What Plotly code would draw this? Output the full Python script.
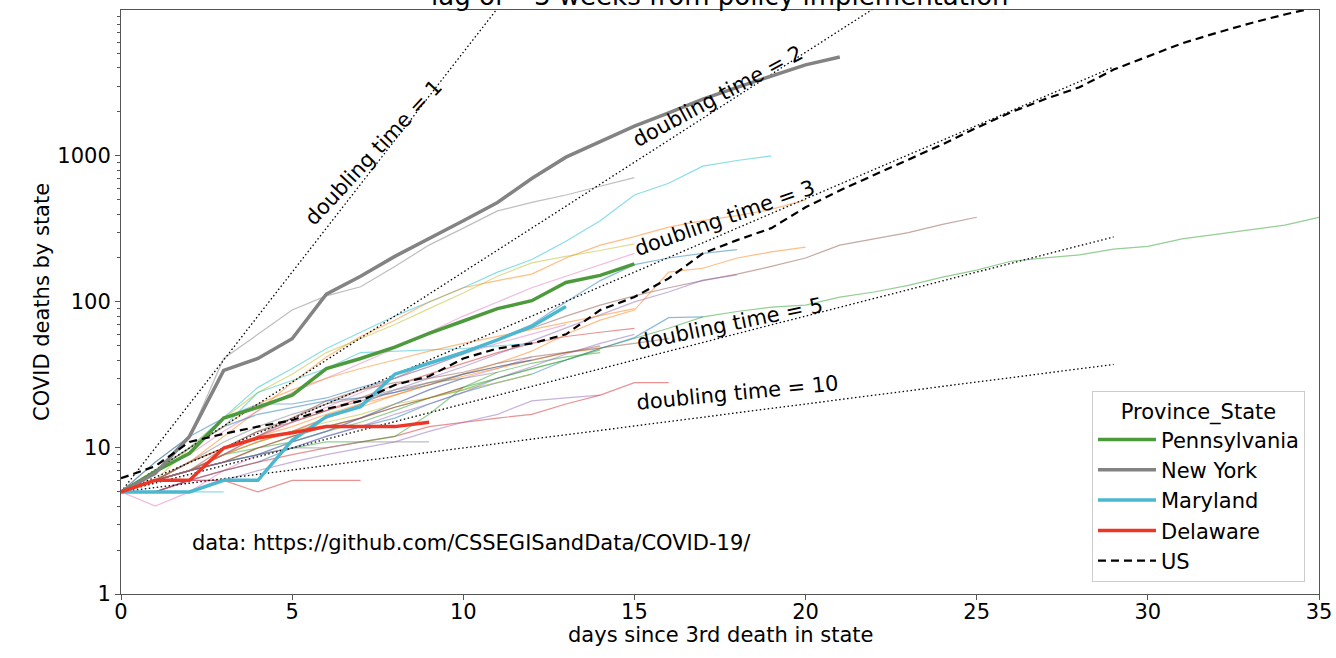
import math
import plotly.graph_objects as go

# highlighted states (deaths by days since 3rd death)
pennsylvania = [5, 6.9, 9.2, 16, 19, 23, 35, 41, 49, 61, 74, 90, 102, 136, 152, 182]
new_york = [5, 6.7, 12, 34, 41, 56, 113, 150, 205, 270, 360, 480, 700, 980, 1250, 1600,
            1970, 2450, 2950, 3500, 4200, 4750]
maryland = [5, 5, 5, 6, 6, 11.3, 16.4, 19.2, 32, 38, 45, 55, 68, 93]
delaware = [5, 6, 6, 10, 11.7, 12.7, 14, 14, 14, 15]
us = [6.2, 7.5, 11, 12.5, 14, 15.5, 18.5, 21, 27, 31, 41, 48, 52, 60, 88, 108, 145, 215,
      265, 320, 445, 580, 740, 940, 1200, 1560, 1990, 2450, 2950, 3900, 4800, 5900, 6950,
      8100, 9300, 10500]

# other states, drawn faint in the background
new_jersey = [5, 8, 12, 41, 60, 88, 110, 127, 175, 245, 320, 420, 480, 540, 620, 710]
michigan = [5, 7, 10, 16, 26, 35, 48, 62, 80, 100, 125, 160, 195, 260, 360, 540, 650, 850, 930, 1000]
louisiana = [5, 6, 8, 12, 18, 28, 42, 58, 75, 100, 125, 140, 155, 200, 245, 280, 325, 360, 390, 430, 500]
massachusetts = [5, 6, 10, 16, 24, 32, 45, 56, 70, 90, 115, 150, 185, 205, 225, 250]
california = [5, 6, 7, 10, 13, 16, 20, 25, 30, 38, 46, 55, 66, 80, 95, 110, 125, 140, 155, 175,
              200, 245, 270, 298, 340, 380]
washington = [5, 6, 7, 9, 10, 11, 13, 15, 18, 22, 25, 30, 35, 40, 48, 56, 66, 79, 86, 92, 95,
              108, 117, 130, 148, 165, 190, 200, 210, 230, 240, 270, 290, 310, 336, 380]
illinois = [5, 8, 12, 16, 20, 20, 22, 26, 30, 36, 44, 55, 70, 100, 140, 180, 200, 215, 228]
georgia = [5, 7, 9, 13, 18, 24, 30, 38, 48, 62, 80, 100, 125, 150, 180, 215]
oklahoma = [5, 4, 5, 7, 9, 11, 13, 16, 20, 25, 30, 35, 42]
florida = [5, 6, 7, 9, 11, 13, 16, 20, 25, 30, 36, 44, 54, 66, 82, 100, 117, 141, 153]
texas = [5, 6, 7, 9, 11, 13, 16, 19, 23, 27, 32, 38, 46, 60, 75, 88, 160, 170, 200, 220, 237]
connecticut = [5, 6, 8, 10, 12, 15, 18, 22, 27, 32, 38, 45, 52, 58, 62, 66]
colorado = [5, 5, 6, 7, 8, 10, 12, 14, 16, 20, 24, 28, 32, 40, 48, 57, 78, 79]
ohio = [5, 6, 7, 8, 10, 12, 14, 16, 19, 22, 26, 30, 35, 40, 47]
indiana = [5, 6, 8, 10, 12, 14, 17, 20, 23, 27, 31, 35, 40, 45, 48]
oregon = [5, 5, 6, 7, 8, 9, 10, 11, 12, 14, 15, 16, 17, 20, 23, 28, 28]
kentucky = [5, 5, 6, 6, 7, 8, 9, 10, 11, 13, 15, 17, 21, 22, 23]
vermont = [5, 6, 7, 8, 9, 10, 10, 11, 11, 11]
south_dakota = [5, 5, 6, 6, 5, 6, 6, 6]
hawaii = [5, 5, 5, 5]
virginia = [5, 6, 7, 8, 9, 10, 11, 11, 12, 17, 26, 33, 38, 42, 45]
missouri = [5, 6, 8, 10, 13, 15, 18, 21, 24, 28, 32, 36, 40, 45, 50]
arizona = [5, 6, 7, 8, 9, 11, 13, 16, 20, 25, 30]
mississippi = [5, 6, 7, 9, 11, 13, 15, 17, 20, 22, 25, 28, 32]
kansas = [5, 6, 7, 8, 10, 12, 14, 16, 19, 22, 26]
nevada = [5, 7, 10, 14, 24, 29, 35, 45, 46, 47, 48, 50, 52]
wisconsin = [5, 6, 8, 11, 14, 17, 20, 22, 25, 28, 30, 33]
tennessee = [5, 6, 7, 9, 12, 15, 19, 24, 30, 36, 44, 52, 60, 70]
south_carolina = [5, 6, 7, 8, 9, 10, 12, 14, 17, 20, 24, 30, 36, 44, 52, 60]
alabama = [5, 6, 7, 9, 12, 16, 21, 25, 28, 30, 33, 38, 42, 45, 48, 52, 56]
minnesota = [5, 7, 10, 14, 17, 19, 21, 22, 24, 27, 32, 36, 40]
north_carolina = [5, 7, 10, 14, 20, 25, 30, 35, 40, 46, 52, 58, 65, 72, 80, 90]

others = [
    ("New Jersey", new_jersey), ("Michigan", michigan), ("Louisiana", louisiana),
    ("Massachusetts", massachusetts), ("California", california), ("Washington", washington),
    ("Illinois", illinois), ("Georgia", georgia), ("Oklahoma", oklahoma), ("Florida", florida),
    ("Texas", texas), ("Connecticut", connecticut), ("Colorado", colorado), ("Ohio", ohio),
    ("Indiana", indiana), ("Oregon", oregon), ("Kentucky", kentucky), ("Vermont", vermont),
    ("South Dakota", south_dakota), ("Hawaii", hawaii), ("Virginia", virginia),
    ("Missouri", missouri), ("Arizona", arizona), ("Mississippi", mississippi),
    ("Kansas", kansas), ("Nevada", nevada), ("Wisconsin", wisconsin), ("Tennessee", tennessee),
    ("South Carolina", south_carolina), ("Alabama", alabama), ("Minnesota", minnesota),
    ("North Carolina", north_carolina),
]
other_colors = ["#7f7f7f", "#17becf", "#ff7f0e", "#bcbd22", "#8c564b", "#2ca02c", "#1f77b4",
                "#e377c2", "#e377c2", "#9467bd", "#ff7f0e", "#d62728", "#1f77b4", "#2ca02c",
                "#ff7f0e", "#d62728", "#9467bd", "#7f7f7f", "#d62728", "#17becf", "#2ca02c",
                "#8c564b", "#1f77b4", "#bcbd22", "#d62728", "#17becf", "#7f7f7f", "#e377c2",
                "#9467bd", "#8c564b", "#1f77b4", "#ff7f0e"]

doubling_times = [1, 2, 3, 5, 10]
doubling_start = 5
doubling_end_day = 29

FONT = "DejaVu Sans"

fig = go.Figure()

for (name, vals), col in zip(others, other_colors):
    fig.add_trace(go.Scatter(x=list(range(len(vals))), y=vals, mode="lines", name=name,
                             line=dict(color=col, width=1.2), opacity=0.5, showlegend=False))

# doubling time guide lines (straight on a log axis)
for dt in doubling_times:
    fig.add_trace(go.Scatter(x=[0, doubling_end_day],
                             y=[doubling_start, doubling_start * 2 ** (doubling_end_day / dt)],
                             mode="lines", line=dict(color="black", width=1.3, dash="1.5px,2.5px"),
                             showlegend=False, hoverinfo="skip"))

main = [("Pennsylvania", pennsylvania, "#4c9a3c"),
        ("New York", new_york, "#838383"),
        ("Maryland", maryland, "#4cb8d0"),
        ("Delaware", delaware, "#ee3626")]
for name, vals, col in main:
    fig.add_trace(go.Scatter(x=list(range(len(vals))), y=vals, mode="lines", name=name,
                             line=dict(color=col, width=3.5)))

fig.add_trace(go.Scatter(x=list(range(len(us))), y=us, mode="lines", name="US",
                         line=dict(color="black", width=2.2, dash="8px,5px")))

# rotated labels on the guide lines: (doubling time, day, deaths, angle)
labels = [(1, 7.4, 1055, -47), (2, 17.45, 2565, -28.4), (3, 17.65, 374, -19.4),
          (5, 17.78, 70.7, -11.7), (10, 18.01, 23.8, -5.6)]
for dt, lx, ly, ang in labels:
    fig.add_annotation(x=lx, y=math.log10(ly), text=f"doubling time = {dt}", showarrow=False,
                       textangle=ang, font=dict(family=FONT, size=21, color="black"))

fig.add_annotation(x=2.02, y=math.log10(2.24),
                   text="data: https://github.com/CSSEGISandData/COVID-19/",
                   showarrow=False, xanchor="left", font=dict(family=FONT, size=21, color="black"))

# title sits mostly above the canvas, as in the original
fig.add_annotation(x=0.5, y=1, xref="paper", yref="paper", yanchor="bottom", yshift=-3,
                   text="lag of ~3 weeks from policy implementation", showarrow=False,
                   font=dict(family=FONT, size=26, color="black"))

# axis titles
fig.add_annotation(x=0.5, y=0, xref="paper", yref="paper", yanchor="middle", yshift=-41,
                   text="days since 3rd death in state", showarrow=False,
                   font=dict(family=FONT, size=21, color="black"))
fig.add_annotation(x=0, y=0.5, xref="paper", yref="paper", xanchor="center", xshift=-79,
                   textangle=-90, text="COVID deaths by state", showarrow=False,
                   font=dict(family=FONT, size=21, color="black"))

minor_vals = [m * 10 ** k for k in range(4) for m in range(2, 10)]
axis_col = "#555555"

fig.update_layout(
    width=1336, height=658,
    margin=dict(l=121, r=17, t=10, b=64),
    plot_bgcolor="white", paper_bgcolor="white",
    font=dict(family=FONT, size=21, color="black"),
    xaxis=dict(range=[0, 35], tickvals=[0, 5, 10, 15, 20, 25, 30, 35], showgrid=False,
               zeroline=False, showline=True, mirror=True, linecolor=axis_col, linewidth=1,
               ticks="outside", ticklen=5, tickcolor=axis_col, automargin=False,
               ticklabelstandoff=-6, tickfont=dict(family=FONT, size=21)),
    yaxis=dict(type="log", range=[0, 3.999], tickvals=[1, 10, 100, 1000],
               ticktext=["1", "10", "100", "1000"], showgrid=False, zeroline=False,
               showline=True, mirror=True, linecolor=axis_col, linewidth=1,
               ticks="outside", ticklen=5, tickcolor=axis_col, automargin=False,
               tickfont=dict(family=FONT, size=21),
               minor=dict(tickvals=minor_vals, ticks="outside", ticklen=3, tickcolor=axis_col,
                          showgrid=False)),
    legend=dict(x=0.9883, y=0.0205, xanchor="right", yanchor="bottom",
                bgcolor="rgba(255,255,255,0.85)", bordercolor="#cccccc", borderwidth=1,
                itemwidth=58,
                title=dict(text="Province_State", side="top center",
                           font=dict(family=FONT, size=21)),
                font=dict(family=FONT, size=21)),
    showlegend=True,
)

fig.write_html("out.html", config={"displayModeBar": False},
               post_script="document.body.style.margin = '0px';")
